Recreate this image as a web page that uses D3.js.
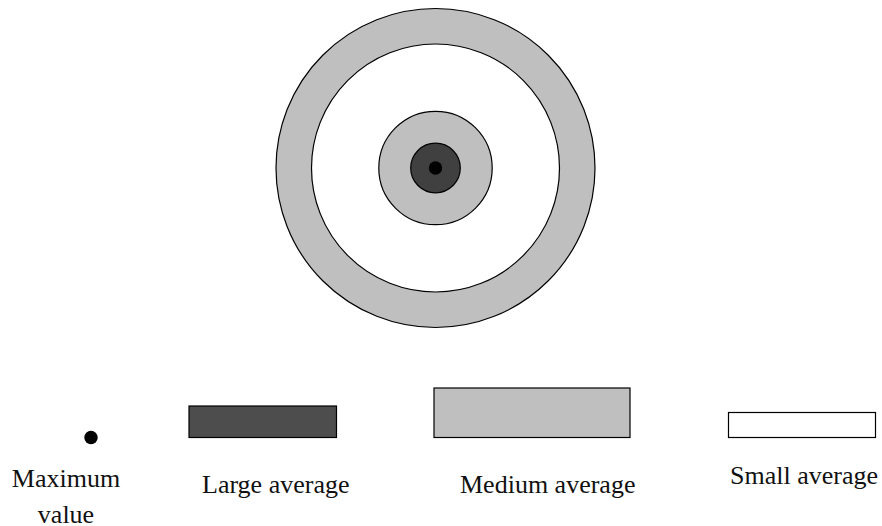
<!DOCTYPE html>
<html>
<head>
<meta charset="utf-8">
<script src="https://cdn.jsdelivr.net/npm/d3@7"></script>
<style>
  body { margin: 0; background: #fff; }
  text { font-family: "Liberation Serif", "Times New Roman", serif; fill: #111; }
</style>
</head>
<body>
<div id="chart"></div>
<script>
var svgWidth = 882;
var svgHeight = 526;

// ring radii of the target, outermost first (data units)
var ringNames = ["outer", "small", "medium", "large", "maximum"];
var ringRadius = [159.5, 124, 56.7, 24.8, 6.7];
var ringFill = ["#bfbfbf", "#ffffff", "#bfbfbf", "#404040", "#000000"];

// legend entries
var legendLabels = [["Maximum", "value"], ["Large average"], ["Medium average"], ["Small average"]];
var legendKinds = ["dot", "rect", "rect", "rect"];
var legendFill = ["#000000", "#4d4d4d", "#bfbfbf", "#ffffff"];

var svg = d3.select("#chart")
  .append("svg")
  .attr("width", svgWidth)
  .attr("height", svgHeight);

var rScale = d3.scaleLinear().domain([0, 159.5]).range([0, 159.5]);

var target = svg.append("g")
  .attr("transform", "translate(435.5, 168)");

target.selectAll("circle")
  .data(ringRadius)
  .enter()
  .append("circle")
  .attr("r", d => rScale(d))
  .attr("fill", (d, i) => ringFill[i])
  .attr("stroke", (d, i) => ringNames[i] == "maximum" ? "none" : "#000")
  .attr("stroke-width", 1.2);

// legend layout (pixel boxes for the swatches)
var swatch = [
  {x: 91, y: 437.5, r: 6.7},
  {x: 189, y: 406, w: 147.5, h: 31.5},
  {x: 434, y: 388, w: 196, h: 49.5},
  {x: 728.5, y: 412.5, w: 147, h: 25}
];
var labelPos = [
  {x: 66, y: 486.7, anchor: "middle"},
  {x: 202, y: 492.7, anchor: "start"},
  {x: 460, y: 492.7, anchor: "start"},
  {x: 730, y: 484, anchor: "start"}
];

var legend = svg.append("g");

legendKinds.forEach(function(kind, i) {
  var s = swatch[i];
  if (kind === "dot") {
    legend.append("circle")
      .attr("cx", s.x)
      .attr("cy", s.y)
      .attr("r", s.r)
      .attr("fill", legendFill[i]);
  } else {
    legend.append("rect")
      .attr("x", s.x)
      .attr("y", s.y)
      .attr("width", s.w)
      .attr("height", s.h)
      .attr("fill", legendFill[i])
      .attr("stroke", "#000")
      .attr("stroke-width", 1.2);
  }

  var t = legend.append("text")
    .attr("x", labelPos[i].x)
    .attr("y", labelPos[i].y)
    .attr("text-anchor", labelPos[i].anchor)
    .attr("font-size", "26px");
  legendLabels[i].forEach(function(line, j) {
    t.append("tspan")
      .attr("x", labelPos[i].x)
      .attr("dy", j === 0 ? 0 : 36.6)
      .text(line);
  });
});
</script>
</body>
</html>
